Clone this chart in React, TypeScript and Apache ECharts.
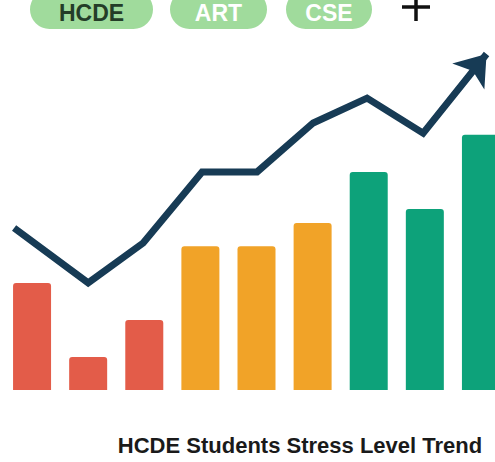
import React, { useEffect, useRef } from "react";
import * as echarts from "echarts";

// Data
const categories = ["1", "2", "3", "4", "5", "6", "7", "8", "9"];
const barValues = [3.06, 0.94, 2.0, 4.11, 4.11, 4.77, 6.23, 5.17, 7.29];
const barColors = ["#e35c49", "#e35c49", "#e35c49", "#f1a328", "#f1a328", "#f1a328", "#0da27a", "#0da27a", "#0da27a"];
const trendX = [0.18, 1.5, 2.48, 3.53, 4.51, 5.51, 6.47, 7.47, 8.6];
const trendY = [4.63, 3.06, 4.2, 6.23, 6.23, 7.63, 8.34, 7.34, 9.6];
const pillLabels = ["HCDE", "ART", "CSE"];
const titleText = "HCDE Students Stress Level Trend";

export default function App() {
  const ref = useRef<HTMLDivElement>(null);
  useEffect(() => {
    if (!ref.current) return;
    const chart = echarts.init(ref.current, null, { renderer: "svg" });
    const font = "'Liberation Sans', Arial, Helvetica, sans-serif";
    const pills = [
      { x: 30, w: 123, textColor: "#243d28" },
      { x: 170, w: 97, textColor: "#ffffff" },
      { x: 286, w: 86, textColor: "#ffffff" },
    ];
    const graphics: any[] = [];
    pills.forEach((p, i) => {
      graphics.push({
        type: "rect",
        shape: { x: p.x, y: -10, width: p.w, height: 39, r: 19.5 },
        style: { fill: "#a0db9c" },
        z: 10,
      });
      graphics.push({
        type: "text",
        x: p.x + p.w / 2,
        y: 12.5,
        style: {
          text: pillLabels[i],
          fill: p.textColor,
          font: `bold 23px ${font}`,
          textAlign: "center",
          textVerticalAlign: "middle",
        },
        z: 11,
      });
    });
    graphics.push({
      type: "line",
      shape: { x1: 402, y1: 7, x2: 430, y2: 7 },
      style: { stroke: "#111111", lineWidth: 3.5 },
      z: 11,
    });
    graphics.push({
      type: "line",
      shape: { x1: 416, y1: -7, x2: 416, y2: 21 },
      style: { stroke: "#111111", lineWidth: 3.5 },
      z: 11,
    });
    graphics.push({
      type: "text",
      x: 300,
      y: 445,
      style: {
        text: titleText,
        fill: "#1a1a1a",
        font: `bold 22px ${font}`,
        textAlign: "center",
        textVerticalAlign: "middle",
      },
      z: 11,
    });

    const lineData = trendX.map((x, i) => {
      if (i === trendX.length - 1) {
        return {
          value: [x, trendY[i]],
          symbol: "arrow",
          symbolSize: [31, 29],
          symbolRotate: -39,
          itemStyle: { color: "#173b55", borderWidth: 0 },
        };
      }
      return { value: [x, trendY[i]], symbol: "none" };
    });

    chart.setOption({
      animation: false,
      backgroundColor: "#ffffff",
      grid: { left: 4, width: 505, top: 40, height: 350, containLabel: false },
      xAxis: [
        {
          type: "category",
          data: categories,
          show: false,
        },
        {
          type: "value",
          min: 0,
          max: 9,
          show: false,
        },
      ],
      yAxis: { type: "value", min: 0, max: 10, show: false },
      series: [
        {
          type: "bar",
          xAxisIndex: 0,
          barWidth: 38,
          data: barValues.map((v, i) => ({
            value: v,
            itemStyle: { color: barColors[i], borderRadius: [3, 3, 0, 0] },
          })),
          z: 2,
        },
        {
          type: "line",
          xAxisIndex: 1,
          data: lineData,
          showSymbol: true,
          showAllSymbol: true,
          lineStyle: { color: "#173b55", width: 7, join: "miter", cap: "butt" },
          itemStyle: { color: "#173b55" },
          z: 3,
        },
      ],
      graphic: graphics,
    });
    return () => chart.dispose();
  }, []);
  return (
    <div
      style={{
        position: "absolute",
        left: 0,
        top: 0,
        width: 495,
        height: 462,
        overflow: "hidden",
        background: "#ffffff",
      }}
    >
      <div ref={ref} style={{ width: 520, height: 462 }} />
    </div>
  );
}
